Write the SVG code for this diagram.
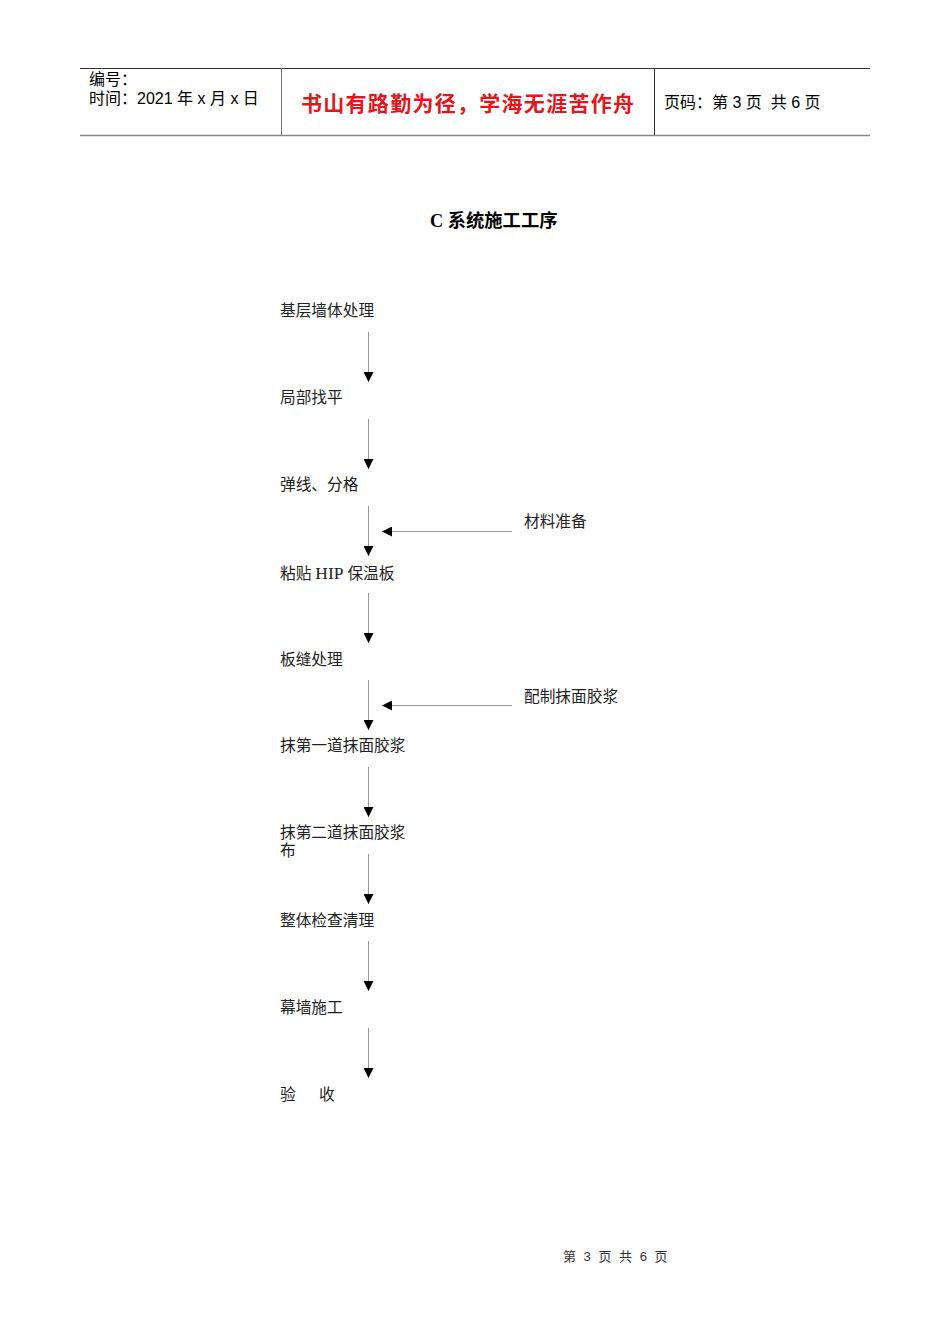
<svg xmlns="http://www.w3.org/2000/svg" width="950" height="1344" viewBox="0 0 950 1344">
<style>
.hd{font-family:"Liberation Sans","Noto Sans CJK SC",sans-serif;font-size:16px;fill:#000}
.red{font-family:"Noto Sans CJK SC",sans-serif;font-size:21px;font-weight:bold;fill:#e8141c}
.nd{font-family:"Liberation Serif","Noto Sans CJK SC",serif;font-size:15.7px;fill:#222}
.ttl{font-family:"Liberation Serif","Noto Sans CJK SC",serif;font-size:18.3px;font-weight:bold;fill:#000}
.ft{font-family:"Liberation Sans","Noto Sans CJK SC",sans-serif;font-size:13px;fill:#333;letter-spacing:2px}
.cn line{stroke:#999;stroke-width:1}
</style>
<defs>
<marker id="ah" viewBox="0 0 10 10" refX="10" refY="5" markerWidth="10" markerHeight="10" markerUnits="userSpaceOnUse" orient="auto">
<path d="M0,0 L10,5 L0,10 z" fill="#000"/>
</marker>
</defs>
<rect width="950" height="1344" fill="#fff"/>
<g id="header">
<line x1="80" y1="68.5" x2="870" y2="68.5" stroke="#333" stroke-width="1"/>
<line x1="80" y1="135.5" x2="870" y2="135.5" stroke="#888" stroke-width="1.5"/>
<line x1="281.5" y1="68" x2="281.5" y2="135" stroke="#777" stroke-width="1"/>
<line x1="654.5" y1="68" x2="654.5" y2="135" stroke="#333" stroke-width="1"/>
<text class="hd" x="89" y="85">编号：</text>
<text class="hd" x="89" y="104">时间：2021 年 x 月 x 日</text>
<text class="red" x="301" y="111" textLength="333">书山有路勤为径，学海无涯苦作舟</text>
<text class="hd" x="664" y="108" xml:space="preserve">页码：第 3 页  共 6 页</text>
</g>
<text class="ttl" x="430" y="227">C 系统施工工序</text>
<g id="n1"><text class="nd" x="280" y="316">基层墙体处理</text></g>
<g id="n2"><text class="nd" x="280" y="403">局部找平</text></g>
<g id="n3"><text class="nd" x="280" y="490">弹线、分格</text></g>
<g id="n4"><text class="nd" x="280" y="579">粘贴 <tspan font-size="17.5px">HIP</tspan> 保温板</text></g>
<g id="n5"><text class="nd" x="280" y="665">板缝处理</text></g>
<g id="n6"><text class="nd" x="280" y="751">抹第一道抹面胶浆</text></g>
<g id="n7"><text class="nd" x="280" y="838">抹第二道抹面胶浆</text><text class="nd" x="280" y="856">布</text></g>
<g id="n8"><text class="nd" x="280" y="926">整体检查清理</text></g>
<g id="n9"><text class="nd" x="280" y="1013">幕墙施工</text></g>
<g id="n10"><text class="nd" x="280" y="1100">验</text><text class="nd" x="319" y="1100">收</text></g>
<g id="s1"><text class="nd" x="524" y="527">材料准备</text></g>
<g id="s2"><text class="nd" x="524" y="702">配制抹面胶浆</text></g>
<g id="connectors" class="cn">
<line x1="368.5" y1="332" x2="368.5" y2="382" marker-end="url(#ah)"/>
<line x1="368.5" y1="419" x2="368.5" y2="469" marker-end="url(#ah)"/>
<line x1="368.5" y1="506" x2="368.5" y2="556" marker-end="url(#ah)"/>
<line x1="368.5" y1="593" x2="368.5" y2="643" marker-end="url(#ah)"/>
<line x1="368.5" y1="680" x2="368.5" y2="730" marker-end="url(#ah)"/>
<line x1="368.5" y1="767" x2="368.5" y2="817" marker-end="url(#ah)"/>
<line x1="368.5" y1="854" x2="368.5" y2="904" marker-end="url(#ah)"/>
<line x1="368.5" y1="941" x2="368.5" y2="991" marker-end="url(#ah)"/>
<line x1="368.5" y1="1028" x2="368.5" y2="1078" marker-end="url(#ah)"/>
<line x1="512" y1="531.5" x2="382" y2="531.5" marker-end="url(#ah)"/>
<line x1="512" y1="705.5" x2="382" y2="705.5" marker-end="url(#ah)"/>
</g>
<text class="ft" x="563" y="1261">第 3 页 共 6 页</text>
</svg>
